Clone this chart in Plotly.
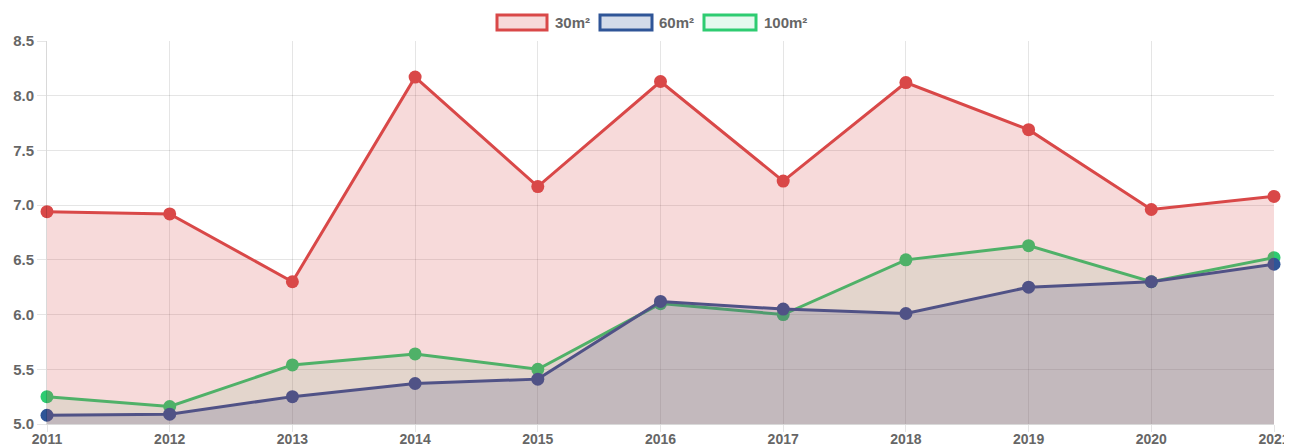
import plotly.graph_objects as go

years = [2011, 2012, 2013, 2014, 2015, 2016, 2017, 2018, 2019, 2020, 2021]
s30 = [6.94, 6.92, 6.30, 8.17, 7.17, 8.13, 7.22, 8.12, 7.69, 6.96, 7.08]
s60 = [5.08, 5.09, 5.25, 5.37, 5.41, 6.12, 6.05, 6.01, 6.25, 6.30, 6.46]
s100 = [5.25, 5.16, 5.54, 5.64, 5.50, 6.10, 6.00, 6.50, 6.63, 6.30, 6.52]
names = ["30m²", "60m²", "100m²"]

RED = "rgb(217,72,72)"
BLUE = "rgb(47,85,151)"
GREEN = "rgb(46,204,113)"

fig = go.Figure()
# drawn in reverse order so the first series sits on top (like Chart.js)
series = [
    (names[2], s100, GREEN, "rgba(46,204,113,0.12)"),
    (names[1], s60, BLUE, "rgba(47,85,151,0.21)"),
    (names[0], s30, RED, "rgba(217,72,72,0.2)"),
]
for name, vals, col, fillc in series:
    fig.add_trace(go.Scatter(
        x=years, y=vals, name=name, mode="lines+markers",
        line=dict(color=col, width=3),
        marker=dict(color=col, size=13),
        fill="tozeroy", fillcolor=fillc,
        cliponaxis=False, showlegend=False,
    ))

axis_font = dict(family="Liberation Sans, Arial, sans-serif", size=15,
                 color="#666666", weight="bold")
fig.update_xaxes(
    range=[2011, 2021], tickmode="linear", dtick=1, tick0=2011,
    showgrid=True, gridcolor="rgba(0,0,0,0.1)", gridwidth=1,
    ticks="outside", ticklen=7, tickcolor="rgba(0,0,0,0.1)",
    ticklabelstandoff=-5, ticklabeloverflow="allow",
    showline=True, linecolor="rgba(0,0,0,0.15)", linewidth=1,
    tickfont=dict(axis_font, size=14), zeroline=False, automargin=False,
)
fig.update_yaxes(
    range=[5.0, 8.5], tickmode="linear", dtick=0.5, tick0=5.0, tickformat=".1f",
    showgrid=True, gridcolor="rgba(0,0,0,0.1)", gridwidth=1,
    ticks="outside", ticklen=9, tickcolor="rgba(0,0,0,0.1)",
    showline=True, linecolor="rgba(0,0,0,0.15)", linewidth=1,
    tickfont=axis_font, zeroline=False, automargin=False,
)

# page offset of 8px (body margin) compensated in size and margins
OFF = 8
PL, PR, PT, PB = 47, 1274, 41, 424  # plot area in page pixels

legend_items = [
    (names[0], RED, "rgba(217,72,72,0.2)", 497, 547, 553),
    (names[1], BLUE, "rgba(47,85,151,0.21)", 600, 652, 657),
    (names[2], GREEN, "rgba(46,204,113,0.12)", 704, 756, 762),
]
W, H = 1292 - OFF, 448 - OFF
shapes = []
annotations = []
for name, col, fillc, x0, x1, tx in legend_items:
    shapes.append(dict(type="rect", xref="paper", yref="paper",
                       x0=(x0 - PL) / (PR - PL), x1=(x1 - PL) / (PR - PL),
                       y0=(PB - 30) / (PB - PT), y1=(PB - 15) / (PB - PT),
                       line=dict(color=col, width=3), fillcolor=fillc))
    annotations.append(dict(xref="paper", yref="paper",
                            x=(tx - PL) / (PR - PL), y=(PB - 22) / (PB - PT),
                            xanchor="left", yanchor="middle", showarrow=False,
                            text=name,
                            font=dict(family="Liberation Sans, Arial, sans-serif",
                                      size=15, color="#666666", weight="bold")))

fig.update_layout(
    width=W, height=H,
    margin=dict(l=PL - OFF, r=W - (PR - OFF), t=PT - OFF, b=H - (PB - OFF)),
    paper_bgcolor="white", plot_bgcolor="white",
    showlegend=False,
    shapes=shapes, annotations=annotations,
    font=axis_font,
)
fig.write_html("out.html")
